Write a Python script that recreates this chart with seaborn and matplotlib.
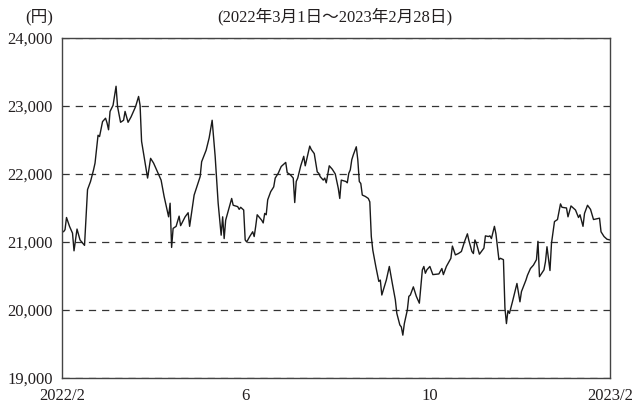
import pandas as pd
import matplotlib
matplotlib.use("Agg")
import matplotlib.pyplot as plt
import seaborn as sns

# ── Data ──────────────────────────────────────────────────────────────────────
# day offset from 2022-02-28, and base price (yen)
days = [1, 2, 3, 5, 7, 8, 10, 12, 15, 17, 19, 21, 22, 24, 25, 27, 29, 30, 31, 32,
        34, 36, 37, 39, 41, 42, 44, 46, 49, 51, 52, 53, 55, 57, 59, 61, 63, 66, 68, 71,
        72, 73, 74, 76, 78, 79, 82, 84, 85, 88, 91, 92, 93, 96, 98, 100, 102, 104, 106, 107,
        108, 109, 113, 114, 117, 118, 119, 121, 122, 123, 125, 127, 128, 129, 130, 133, 134, 135, 136, 137,
        139, 141, 142, 144, 146, 149, 150, 152, 154, 155, 156, 157, 159, 161, 162, 165, 166, 168, 170, 171,
        172, 174, 175, 176, 178, 180, 182, 184, 185, 186, 189, 190, 191, 192, 193, 194, 196, 197, 198, 199,
        200, 202, 204, 205, 206, 207, 209, 211, 212, 213, 216, 218, 220, 222, 223, 225, 226, 227, 228, 230,
        231, 232, 234, 236, 238, 240, 241, 242, 243, 245, 247, 249, 251, 253, 254, 256, 259, 260, 262, 264,
        266, 268, 270, 271, 273, 274, 275, 276, 278, 280, 281, 282, 284, 285, 286, 288, 289, 291, 292, 294,
        295, 296, 297, 298, 300, 303, 305, 306, 309, 310, 312, 314, 316, 317, 318, 321, 322, 323, 325, 326,
        328, 330, 332, 333, 336, 337, 339, 342, 344, 345, 347, 348, 350, 352, 354, 358, 359, 361, 363, 365]
nav = [21150, 21180, 21360, 21230, 21130, 20870, 21190, 21030, 20950, 21770,
       21890, 22060, 22160, 22570, 22550, 22770, 22820, 22750, 22650, 22920,
       23010, 23290, 22990, 22760, 22790, 22920, 22760, 22840, 22990, 23140,
       23010, 22480, 22210, 21940, 22230, 22160, 22060, 21910, 21670, 21370,
       21570, 20920, 21200, 21230, 21380, 21240, 21370, 21430, 21230, 21690,
       21890, 21960, 22180, 22350, 22530, 22790, 22260, 21570, 21100, 21370,
       21050, 21320, 21640, 21540, 21520, 21480, 21510, 21470, 21030, 21000,
       21080, 21150, 21080, 21230, 21400, 21320, 21280, 21420, 21400, 21620,
       21740, 21810, 21940, 22010, 22110, 22170, 22020, 21990, 21940, 21580,
       21890, 21940, 22120, 22260, 22120, 22410, 22360, 22300, 22030, 22010,
       21960, 21910, 21940, 21870, 22120, 22070, 22000, 21790, 21640, 21910,
       21890, 21870, 22010, 22060, 22210, 22280, 22400, 22210, 21890, 21860,
       21690, 21670, 21640, 21590, 21080, 20880, 20640, 20420, 20440, 20220,
       20440, 20640, 20390, 20150, 19950, 19780, 19750, 19630, 19800, 20000,
       20200, 20220, 20340, 20200, 20100, 20590, 20640, 20540, 20590, 20640,
       20520, 20525, 20530, 20610, 20520, 20640, 20760, 20940, 20810, 20830,
       20860, 21000, 21120, 21020, 20860, 20830, 21030, 20980, 20820, 20880,
       20910, 21090, 21080, 21090, 21050, 21230, 21120, 20740, 20760, 20740,
       20030, 19800, 19990, 19950, 20120, 20390, 20120, 20270, 20440, 20510,
       20610, 20660, 20740, 21010, 20490, 20590, 20710, 20930, 20580, 20980,
       21300, 21330, 21560, 21510, 21500, 21370, 21530, 21470, 21360, 21400,
       21230, 21420, 21540, 21480, 21330, 21350, 21150, 21080, 21040, 21030]

start_date = "2022-02-28"
end_date = "2023-02-28"
tick_dates = ["2022-02-28", "2022-06-30", "2022-10-31", "2023-02-28"]
tick_labels = ["2022/2", "6", "10", "2023/2"]
y_ticks = [19000, 20000, 21000, 22000, 23000, 24000]
unit_label = "(円)"
period_label = "(2022年3月1日～2023年2月28日)"

df = pd.DataFrame({
    "date": pd.Timestamp(start_date) + pd.to_timedelta(days, unit="D"),
    "nav": nav,
})

# ── Style ─────────────────────────────────────────────────────────────────────
sns.set_theme(style="white")
plt.rcParams["font.family"] = ["Liberation Serif", "Noto Sans CJK JP"]
plt.rcParams["lines.scale_dashes"] = False
text_color = "#231f20"

fig = plt.figure(figsize=(6.34, 4.04), dpi=100)
ax = fig.add_axes([0.0978, 0.0644, 0.8644, 0.8416])

sns.lineplot(data=df, x="date", y="nav", ax=ax, color="#1a1a1a", linewidth=1.0)

ax.set_xlim(pd.Timestamp(start_date), pd.Timestamp(end_date))
ax.set_ylim(y_ticks[0], y_ticks[-1])
ax.set_xticks(pd.to_datetime(tick_dates))
ax.set_xticklabels(tick_labels)
ax.set_yticks(y_ticks)
ax.set_yticklabels([f"{v:,}" for v in y_ticks])
ax.set_xlabel("")
ax.set_ylabel("")

ax.yaxis.grid(True, linestyle=(0, (5.2, 4.3)), color="#333333", linewidth=0.9)
ax.xaxis.grid(False)
ax.set_axisbelow(True)

for s in ax.spines.values():
    s.set_visible(True)
    s.set_color("#444444")
    s.set_linewidth(1.0)

ax.tick_params(axis="y", length=0, pad=6.5, labelsize=12, labelcolor=text_color)
ax.tick_params(axis="x", direction="in", length=4.5, width=0.8, color="#444444",
               pad=7, labelsize=12, labelcolor=text_color)

fig.text(39 / 634, 1 - 17 / 404, unit_label, ha="center", va="center",
         fontsize=12, color=text_color)
fig.text(335 / 634, 1 - 17 / 404, period_label, ha="center", va="center",
         fontsize=12, color=text_color)

fig.savefig("out.png", dpi=100)
plt.close(fig)
